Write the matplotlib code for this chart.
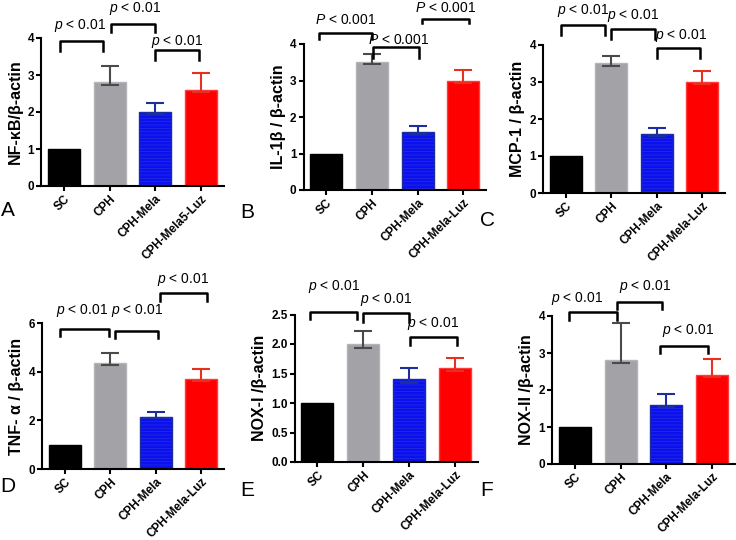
import matplotlib
matplotlib.use('Agg')
import matplotlib.pyplot as plt

plt.rcParams['font.family'] = ['Liberation Sans', 'DejaVu Sans']
plt.rcParams['mathtext.fontset'] = 'custom'
plt.rcParams['mathtext.rm'] = 'Liberation Sans'
plt.rcParams['mathtext.it'] = 'Liberation Sans:italic'
plt.rcParams['hatch.linewidth'] = 0.5

# groups and values
groups = ['SC', 'CPH', 'CPH-Mela', 'CPH-Mela-Luz']
groups_a = ['SC', 'CPH', 'CPH-Mela', 'CPH-Mela5-Luz']

nfkb = [1.0, 2.8, 2.0, 2.6]
nfkb_err = [0.0, 0.45, 0.23, 0.45]
il1b = [1.0, 3.5, 1.6, 3.0]
il1b_err = [0.0, 0.22, 0.16, 0.3]
mcp1 = [1.0, 3.5, 1.6, 3.0]
mcp1_err = [0.0, 0.21, 0.15, 0.3]
tnfa = [1.0, 4.35, 2.15, 3.68]
tnfa_err = [0.0, 0.43, 0.21, 0.44]
nox1 = [1.0, 2.0, 1.4, 1.6]
nox1_err = [0.0, 0.22, 0.2, 0.17]
nox2 = [1.0, 2.8, 1.6, 2.4]
nox2_err = [0.0, 1.0, 0.28, 0.44]

# significance brackets: (x0, x1, bar y, leg y, text x, text y, label)
pa = r'$p$ < 0.01'
pb = r'$P$ < 0.001'
sig_a = [(-0.09, 0.85, 3.92, 3.65, 0.35, 4.33, pa),
         (1.03, 2.0, 4.39, 4.15, 1.55, 4.8, pa),
         (2.0, 2.95, 3.67, 3.4, 2.48, 3.9, pa)]
sig_b = [(-0.16, 1.0, 4.29, 4.14, 0.43, 4.66, pb),
         (1.02, 2.04, 3.93, 3.61, 1.58, 4.11, pb),
         (2.1, 3.13, 4.68, 4.57, 2.61, 5.0, pb)]
sig_c = [(-0.11, 0.87, 4.54, 4.27, 0.38, 4.93, pa),
         (0.99, 1.96, 4.43, 4.15, 1.49, 4.8, pa),
         (2.0, 2.95, 3.91, 3.64, 2.54, 4.27, pa)]
sig_d = [(-0.1, 0.97, 5.74, 5.47, 0.39, 6.53, pa),
         (1.1, 2.05, 5.67, 5.38, 1.59, 6.53, pa),
         (2.1, 3.12, 7.23, 6.9, 2.6, 7.77, pa)]
sig_e = [(-0.16, 0.87, 2.55, 2.43, 0.36, 2.98, pa),
         (0.99, 2.0, 2.52, 2.38, 1.5, 2.75, pa),
         (2.02, 3.04, 2.12, 1.98, 2.53, 2.35, pa)]
sig_f = [(-0.12, 0.91, 4.1, 3.89, 0.05, 4.48, pa),
         (0.91, 1.91, 4.39, 4.18, 1.53, 4.79, pa),
         (1.86, 2.91, 3.19, 3.0, 2.47, 3.6, pa)]

face = ['#000000', '#a2a2a7', '#0a10ee', '#ff0000']
edge = ['#000000', '#b4b4b8', '#1a2ea0', '#ff3a3a']
errc = ['#000000', '#4a4a4a', '#1a2ea0', '#e83020']

fig = plt.figure(figsize=(7.36, 5.40), dpi=100)
W, H = 736.0, 540.0


def panel(px_left, px_right, px_top, px_bottom, vals, errs, labels, ylab,
          ymax, ystep, sig, letter, letter_xy, fmt=None):
    ax = fig.add_axes([px_left / W, 1 - px_bottom / H,
                       (px_right - px_left) / W, (px_bottom - px_top) / H])
    x = list(range(len(vals)))
    for i in x:
        if i == 2:
            # faint horizontal stripes in the blue bar
            ax.bar(i, vals[i], width=0.7, color=face[i], edgecolor='#2a30d8',
                   linewidth=0, hatch='-----', zorder=2)
            ax.bar(i, vals[i], width=0.7, color='none', edgecolor=edge[i],
                   linewidth=1.0, zorder=2)
        else:
            ax.bar(i, vals[i], width=0.7, color=face[i], edgecolor=edge[i],
                   linewidth=1.0, zorder=2)
        if errs[i] > 0:
            ax.errorbar(i, vals[i], yerr=[[0.06], [errs[i]]], fmt='none',
                        ecolor=errc[i], elinewidth=1.5, capsize=6.5,
                        capthick=1.5, zorder=3)
    ax.set_xlim(-0.5, 3.5)
    ax.set_ylim(0, ymax)
    ticks = [k * ystep for k in range(int(round(ymax / ystep)) + 1)]
    ax.set_yticks(ticks)
    if fmt:
        ax.set_yticklabels([fmt.format(t) for t in ticks])
    ax.set_xticks(x)
    ax.set_xticklabels(labels, rotation=45, ha='right',
                       rotation_mode='anchor', fontweight='bold', fontsize=8.5)
    for t in ax.get_yticklabels():
        t.set_fontweight('bold')
        t.set_fontsize(8.5)
    ax.spines['top'].set_visible(False)
    ax.spines['right'].set_visible(False)
    for s in ('left', 'bottom'):
        ax.spines[s].set_linewidth(1.5)
    ax.tick_params(width=1.5, length=3.5, pad=1.5)
    ax.set_ylabel(ylab, fontsize=11.5, fontweight='bold', labelpad=3)
    for x0, x1, yb, yl, tx, ty, lab in sig:
        ax.plot([x0, x0, x1, x1], [yl, yb, yb, yl], color='black',
                linewidth=1.8, clip_on=False, zorder=3)
        ax.text(tx, ty, lab, ha='center', va='center', fontsize=10)
    fig.text(letter_xy[0] / W, 1 - letter_xy[1] / H, letter,
             fontsize=15, ha='left', va='center')
    return ax


panel(41, 224, 38, 186, nfkb, nfkb_err, groups_a, 'NF-κB/β-actin',
      4, 1, sig_a, 'A', (1, 211))
panel(303.5, 486, 44, 190, il1b, il1b_err, groups, 'IL-1β / β-actin',
      4, 1, sig_b, 'B', (240, 212))
panel(543, 725, 45, 193, mcp1, mcp1_err, groups, 'MCP-1 / β-actin',
      4, 1, sig_c, 'C', (480, 220))
panel(42, 224, 323, 469, tnfa, tnfa_err, groups, 'TNF- α / β-actin',
      6, 2, sig_d, 'D', (0, 487))
panel(294.5, 478, 314.5, 462, nox1, nox1_err, groups, 'NOX-I /β-actin',
      2.5, 0.5, sig_e, 'E', (240, 490))
panel(552, 735, 316, 464, nox2, nox2_err, groups, 'NOX-II /β-actin',
      4, 1, sig_f, 'F', (480, 490))

fig.savefig('out.png', dpi=100)
